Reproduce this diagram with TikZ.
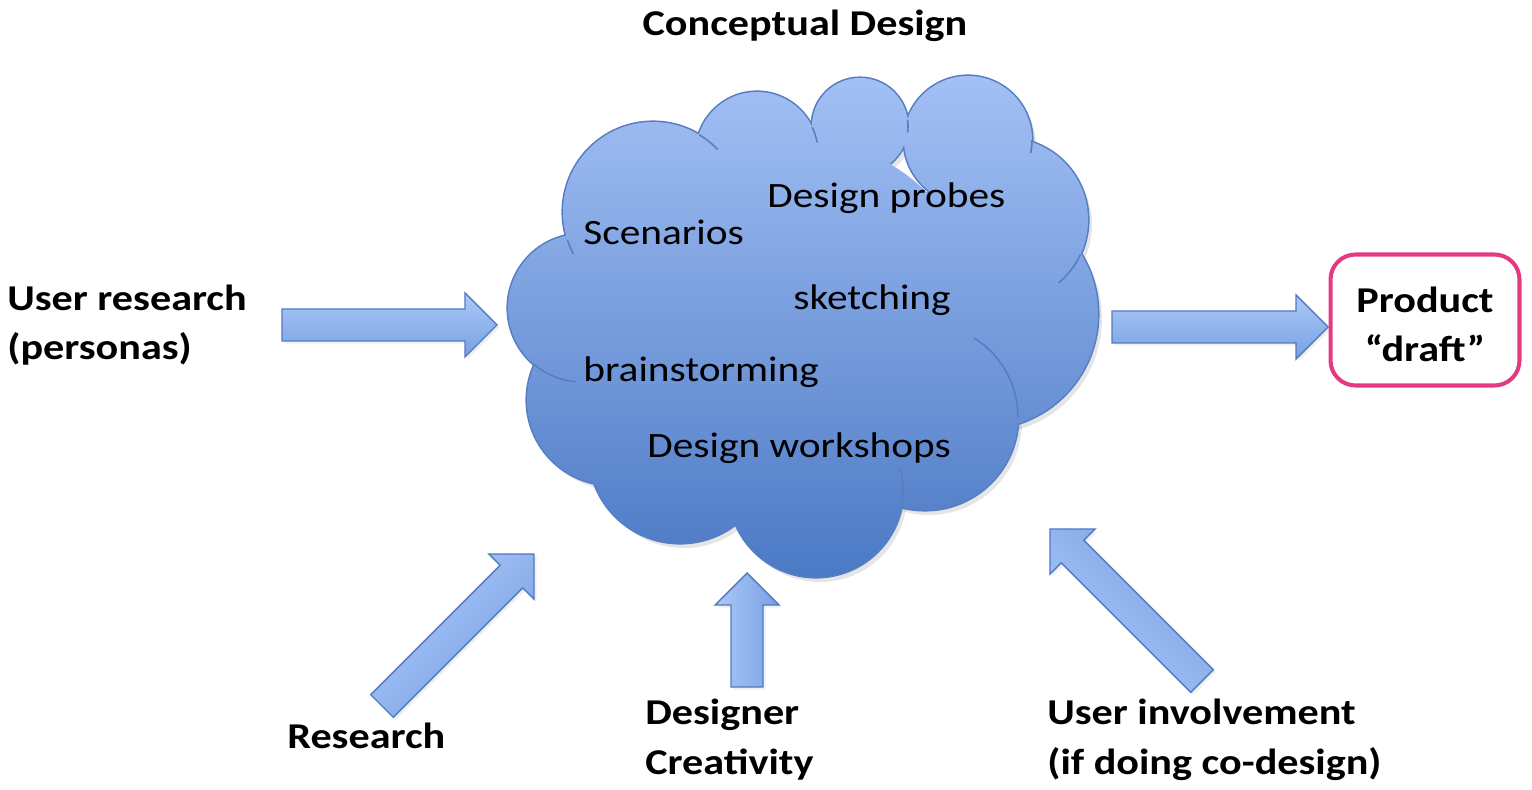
\documentclass[tikz,border=0pt]{standalone}
\usepackage{fontspec}
\setmainfont{Carlito}[FakeStretch=1.16]
\usepackage{tikz}
\usetikzlibrary{positioning}
\usetikzlibrary{shadows}
\definecolor[named]{cloudtop}{RGB}{164,193,245}
\definecolor[named]{cloudbot}{RGB}{74,120,196}
\definecolor[named]{cloudline}{RGB}{86,126,194}
\definecolor[named]{arrowlight}{RGB}{172,201,247}
\definecolor[named]{arrowdark}{RGB}{120,160,228}
\definecolor[named]{arrowline}{RGB}{82,122,192}
\definecolor[named]{draftpink}{RGB}{228,58,130}

\tikzset{
  blockarr/.style={draw=arrowline, line width=0.8pt, top color=arrowlight, bottom color=arrowdark,
    drop shadow={opacity=0.12, shadow xshift=1.5pt, shadow yshift=-1.5pt}},
  cloudtext/.style={font=\fontsize{20.3}{24}\selectfont, anchor=base west, inner sep=0pt},
  labeltext/.style={font=\bfseries\fontsize{20.7}{28.35}\selectfont, align=left, anchor=base west, inner sep=0pt},
  draftbox/.style={draw=draftpink, line width=2.3pt, rounded corners=0.5cm, minimum width=3.78cm,
    minimum height=2.62cm}
}

% tail point, angle, length
\newcommand{\bluearrow}[3]{%
  \draw[blockarr, shading angle=#2, shift={#1}, rotate=#2]
    (0,16) -- ({#3-32},16) -- ({#3-32},32) -- (#3,0) -- ({#3-32},-32) -- ({#3-32},-16) -- (0,-16) -- cycle;}

\begin{document}
\begin{tikzpicture}[x=0.02cm,y=-0.02cm]
\useasboundingbox (0,0) rectangle (1532,790);

\def\lobes{653/212/90, 757/153/61, 860/126/48, 968/140/64, 1006/220/82, 983/314/115,
  925/417/93, 816/490/87, 680/452/91, 612/400/85, 582/308/74}

% cloud
\foreach \cx/\cy/\r in \lobes
  \fill[black, opacity=0.10] (\cx+4,\cy+5) circle[radius=\r];
\foreach \cx/\cy/\r in \lobes
  \draw[cloudline, line width=1.8pt] (\cx,\cy) circle[radius=\r];
\begin{scope}
  \clip (800,320) circle[radius=180] \foreach \cx/\cy/\r in \lobes { (\cx,\cy) circle[radius=\r] };
  \shade[top color=cloudtop, bottom color=cloudbot] (500,70) rectangle (1110,585);
\end{scope}
\begin{scope}[cloudline, line width=0.9pt]
  \draw (653,212) ++(-59:90) arc[start angle=-59, end angle=-44, radius=90];
  \draw (653,212) ++(162:90) arc[start angle=162, end angle=152, radius=90];
  \draw (757,153) ++(-25:61) arc[start angle=-25, end angle=-10, radius=61];
  \draw (860,126) ++(-7:48) arc[start angle=-7, end angle=8, radius=48];
  \draw (968,140) ++(0:64) arc[start angle=0, end angle=12, radius=64];
  \draw (1006,220) ++(25:82) arc[start angle=25, end angle=50, radius=82];
  \draw (925,417) ++(-58:93) arc[start angle=-58, end angle=0, radius=93];
  \draw (816,490) ++(11:87) arc[start angle=11, end angle=-15, radius=87];
  \draw (582,308) ++(130:74) arc[start angle=130, end angle=95, radius=74];
\end{scope}

\node[cloudtext] (probes) at (767,208) {Design probes};
\node[cloudtext] (scen) at (583,245) {Scenarios};
\node[cloudtext] (sketch) at (793,310) {sketching};
\node[cloudtext] (brain) at (583,382) {brainstorming};
\node[cloudtext] (workshops) at (647,458) {Design workshops};

% arrows
\bluearrow{(282,325)}{0}{215}
\bluearrow{(1112,327)}{0}{216}
\bluearrow{(382,706)}{45}{215}
\bluearrow{(747,687)}{90}{114}
\bluearrow{(1202,681)}{135}{215}

% labels (base = last line)
\node[labeltext, anchor=base] (title) at (805,36) {Conceptual Design};
\node[labeltext] (userres) at (7,360) {User research\\(personas)};
\node[labeltext] (research) at (287,748) {Research};
\node[labeltext] (designer) at (645,774) {Designer\\Creativity};
\node[labeltext] (userinv) at (1047,774) {User involvement\\(if doing co-design)};
\node[draftbox] (draft) at (1425,320) {};
\node[labeltext, align=center, anchor=base] (drafttext) at (draft.center |- 0,362) {Product\\“draft”};
\end{tikzpicture}
\end{document}
